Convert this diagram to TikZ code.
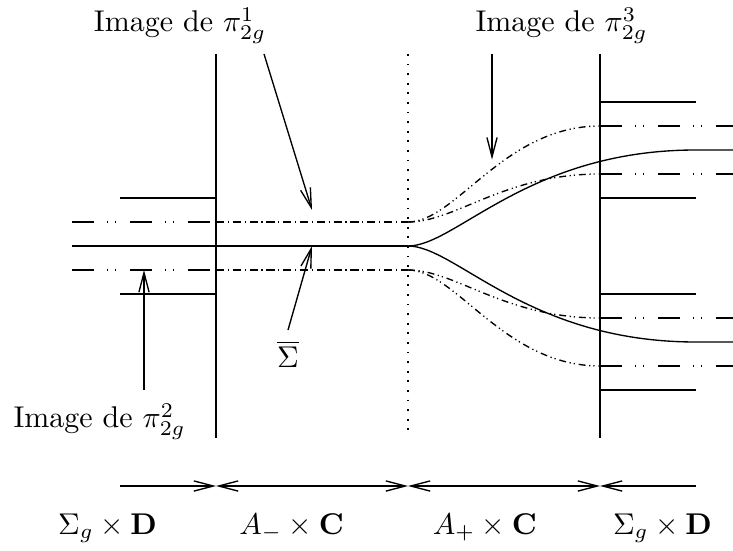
\documentclass[tikz,border=0pt]{standalone}
\usepackage{amsmath,amssymb}
\usetikzlibrary{arrows.meta}

\tikzset{
  ddot/.style={dash pattern=on 7.3pt off 4.3pt on 0.4pt off 2.4pt on 0.4pt off 4.5pt},
  dmid/.style={dash pattern=on 2.7pt off 1.2pt on 0.4pt off 1.3pt},
  dcurve/.style={dash pattern=on 2.3pt off 1.2pt on 0.4pt off 1pt on 0.4pt off 1.3pt},
  dwall/.style={dash pattern=on 0.6pt off 2.6pt},
}

\begin{document}
\begin{tikzpicture}[x=8pt, y=-8pt, line width=0.45pt, >={Straight Barb[length=6.5pt,width=3.4pt]}]
  \useasboundingbox (0,-0.25) rectangle (30.54,22.67);

  % Walls
  \draw (9,2) -- (9,18);
  \draw[dwall] (17,2) -- (17,17.8);
  \draw (25,2) -- (25,18);

  % Left part
  \draw (5,8) -- (9,8);
  \draw (5,12) -- (9,12);
  \draw[ddot] (3,9) -- (9,9);
  \draw[ddot] (3,11) -- (9,11);
  \draw[dmid] (9,9) -- (17,9);
  \draw[dmid] (9,11) -- (17,11);
  \draw (3,10) -- (17,10);

  % Splitting
  \draw (17,10) .. controls (19,10) and (22,6) .. (29,6) -- (30.54,6);
  \draw (17,10) .. controls (19,10) and (22,14) .. (29,14) -- (30.54,14);
  \draw[dcurve] (17,9) .. controls (19,9) and (21,5) .. (25,5);
  \draw[dcurve] (17,9) .. controls (19,9) and (21,7) .. (25,7);
  \draw[dcurve] (17,11) .. controls (19,11) and (21,13) .. (25,13);
  \draw[dcurve] (17,11) .. controls (19,11) and (21,15) .. (25,15);

  % Right part
  \foreach \y in {4,8,12,16}
    \draw (25,\y) -- (29,\y);
  \foreach \y in {5,7,13,15}
    \draw[ddot] (25,\y) -- (30.54,\y);

  % Labels and pointers
  \node[anchor=base] (imgone) at (7.5,1.08) {Image de $\pi^1_{2g}$};
  \node[anchor=base] (imgthree) at (23.4,1.08) {Image de $\pi^3_{2g}$};
  \node[anchor=base] (imgtwo) at (4.15,17.58) {Image de $\pi^2_{2g}$};
  \node (sigbar) at (12,14.5) {$\overline{\Sigma}$};
  \coordinate (oneS) at (11,2);
  \coordinate (oneE) at (13,8.5);
  \coordinate (threeS) at (20.5,2);
  \coordinate (threeE) at (20.5,6.4);
  \coordinate (twoS) at (6,16);
  \coordinate (twoE) at (6,11);
  \coordinate (sigS) at (12,13.5);
  \coordinate (sigE) at (13,10);
  \draw[->] (oneS) -- (oneE);
  \draw[->] (threeS) -- (threeE);
  \draw[->] (twoS) -- (twoE);
  \draw[->] (sigS) -- (sigE);

  % Pieces
  \coordinate (b0) at (5,20);
  \coordinate (b1) at (9,20);
  \coordinate (b2) at (17,20);
  \coordinate (b3) at (25,20);
  \coordinate (b4) at (29,20);
  \draw[->] (b0) -- (b1);
  \draw[<->] (b1) -- (b2);
  \draw[<->] (b2) -- (b3);
  \draw[<-] (b3) -- (b4);
  \node[anchor=base] (pleft) at (4.48,22) {$\Sigma_g\times\mathbf{D}$};
  \node[anchor=base] (pminus) at (12.15,22) {$A_-\times\mathbf{C}$};
  \node[anchor=base] (pplus) at (20.2,22) {$A_+\times\mathbf{C}$};
  \node[anchor=base] (pright) at (27.6,22) {$\Sigma_g\times\mathbf{D}$};
\end{tikzpicture}
\end{document}
